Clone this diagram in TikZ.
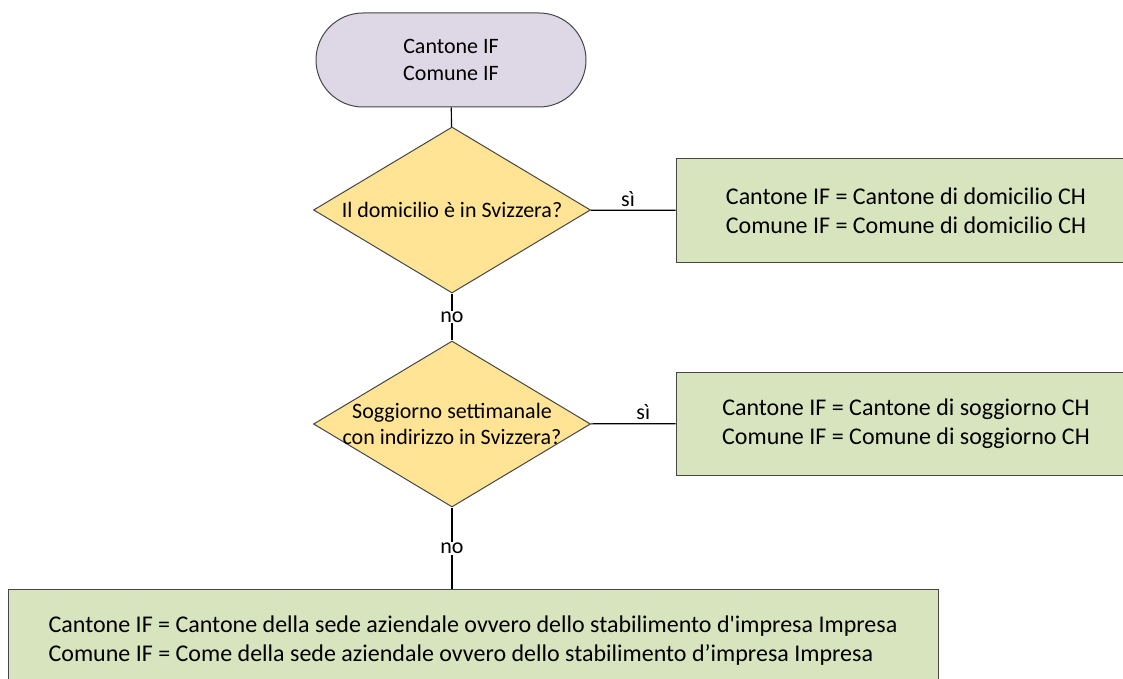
\documentclass[tikz,border=0pt]{standalone}
\usepackage{fontspec}
\setmainfont{Carlito}
\usepackage{tikz}
\usetikzlibrary{positioning, shapes.geometric}
\definecolor{fclilla}{RGB}{221,215,230}
\definecolor{fcgiallo}{RGB}{255,228,150}
\definecolor{fcverde}{RGB}{216,228,190}
\definecolor{fcbordo}{RGB}{70,70,70}

\begin{document}
\begin{tikzpicture}[x=1pt, y=-1pt,
    every node/.style={font=\fontsize{22}{26.5}\selectfont},
    terminale/.style={rectangle, rounded corners=47pt, fill=fclilla, draw=fcbordo, line width=1pt,
      minimum width=270pt, minimum height=94pt, align=center},
    domanda/.style={diamond, fill=fcgiallo, draw=fcbordo, line width=1pt, inner sep=0pt,
      minimum width=277pt, minimum height=166pt},
    esito/.style={rectangle, fill=fcverde, draw=fcbordo, line width=1pt,
      minimum height=103pt, align=center, font=\fontsize{24}{29}\selectfont},
    ramo/.style={draw=black, line width=1.2pt},
    etichetta/.style={fill=white, inner sep=1pt}]
  \clip (0,0) rectangle (1123,679);
  \fill[white] (0,0) rectangle (1123,679);

  \node[terminale] (inizio) at (451,60) {Cantone IF\\Comune IF};
  \node[domanda, label={center:Il domicilio è in Svizzera?}] (domicilio) at (452,210) {};
  \node[domanda, label={[align=center]center:Soggiorno settimanale\\con indirizzo in Svizzera?}]
    (soggiorno) at (452,424) {};
  \node[esito, minimum width=460pt] (esitodom) at (906,210.5)
    {Cantone IF = Cantone di domicilio CH\\Comune IF = Comune di domicilio CH};
  \node[esito, minimum width=460pt] (esitosog) at (906,423.5)
    {Cantone IF = Cantone di soggiorno CH\\Comune IF = Comune di soggiorno CH};
  \node[esito, minimum width=930pt, align=left] (esitosede) at (473,641)
    {Cantone IF = Cantone della sede aziendale ovvero dello stabilimento d\textquotesingle impresa Impresa\\
     Comune IF = Come della sede aziendale ovvero dello stabilimento d’impresa Impresa};

  \draw[ramo] (inizio) -- (domicilio);
  \draw[ramo] (domicilio) -- node[pos=0.44, above] {sì} (esitodom);
  \draw[ramo] (domicilio) -- node[etichetta] {no} (soggiorno);
  \draw[ramo] (soggiorno) -- node[pos=0.62, above] {sì} (esitosog);
  \draw[ramo] (soggiorno.south) -- node[etichetta] {no} (soggiorno.south |- esitosede.north);
\end{tikzpicture}
\end{document}
